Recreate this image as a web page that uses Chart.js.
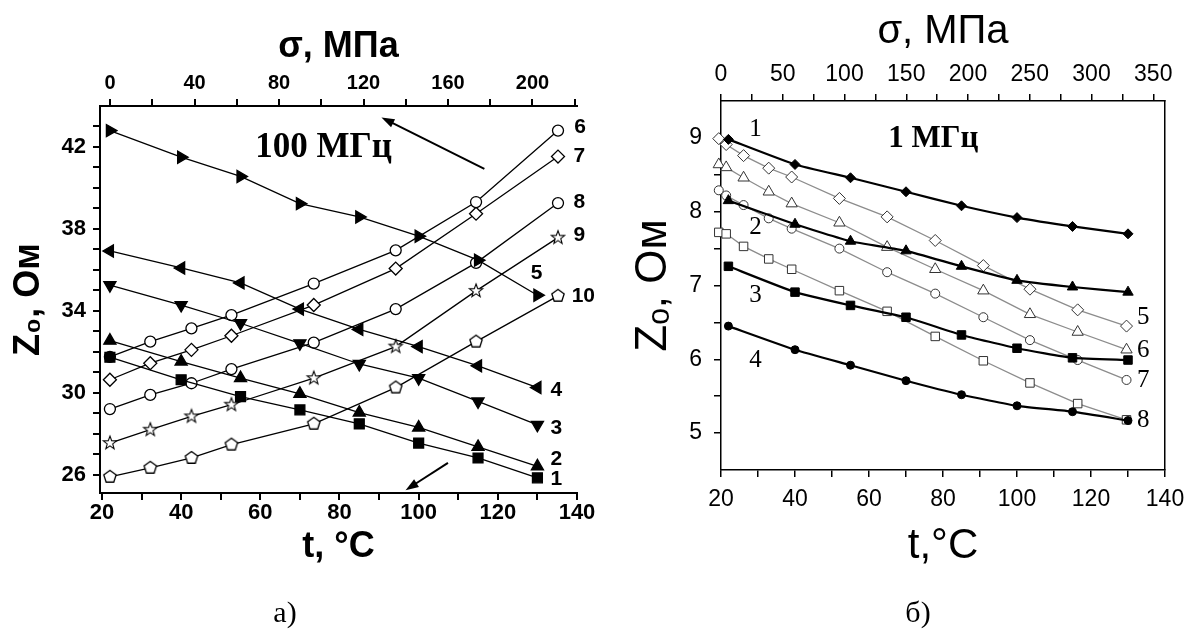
<!DOCTYPE html>
<html>
<head>
<meta charset="utf-8">
<script src="https://cdn.jsdelivr.net/npm/chart.js@4.4.1/dist/chart.umd.min.js"></script>
<style>
  html, body { margin: 0; padding: 0; background: #fff; }
  #wrap { position: relative; width: 1187px; height: 632px; overflow: hidden; }
  canvas { position: absolute; top: 0; }
  #ca { left: 0; width: 600px; height: 632px; }
  #cb { left: 600px; width: 587px; height: 632px; }
  .cap { position: absolute; font-family: 'Liberation Serif', serif; font-size: 30px; transform: translate(-50%, -50%); }
</style>
</head>
<body>
<div id="wrap">
  <canvas id="ca" width="600" height="632"></canvas>
  <canvas id="cb" width="587" height="632"></canvas>
  <div class="cap" style="left:285px;top:612px">а)</div>
  <div class="cap" style="left:918px;top:612px">б)</div>
</div>
<script>
// ---- chart а) : 100 MHz ----
const tempA = [22, 40, 55, 70, 85, 100, 115, 130];          // filled markers
const tempA2 = [22, 32.2, 42.6, 52.7, 73.5, 94.2, 114.5, 135.2]; // open markers
const zA1 = [31.73, 30.63, 29.81, 29.16, 28.48, 27.54, 26.81, 25.84];
const zA2 = [32.54, 31.52, 30.71, 29.94, 29.03, 28.30, 27.35, 26.40];
const zA3 = [35.25, 34.28, 33.39, 32.41, 31.40, 30.71, 29.57, 28.43];
const zA4 = [36.92, 36.09, 35.36, 34.08, 33.09, 32.25, 31.31, 30.25];
const zA5 = [42.80, 41.50, 40.56, 39.23, 38.58, 37.64, 36.47, 34.76];
const zA6 = [31.75, 32.49, 33.14, 33.79, 35.33, 36.95, 39.31, 42.80];
const zA7 = [30.63, 31.44, 32.09, 32.78, 34.28, 36.06, 38.74, 41.53];
const zA8 = [29.20, 29.89, 30.46, 31.15, 32.44, 34.08, 36.34, 39.26];
const zA9 = [27.54, 28.19, 28.84, 29.41, 30.71, 32.25, 34.97, 37.57];
const zA10 = [25.89, 26.33, 26.81, 27.46, 28.48, 30.25, 32.49, 34.73];

const ticksAx = [20, 30, 40, 50, 60, 70, 80, 90, 100, 110, 120, 130, 140];
const labelsAx = [20, 40, 60, 80, 100, 120, 140];
const ticksAs = [0, 20, 40, 60, 80, 100, 120, 140, 160, 180, 200, 220];
const labelsAs = [0, 40, 80, 120, 160, 200];
const ticksAy = [26, 27, 28, 29, 30, 31, 32, 33, 34, 35, 36, 37, 38, 39, 40, 41, 42, 43];
const labelsAy = [26, 30, 34, 38, 42];

// ---- chart б) : 1 MHz ----
const tempB = [22, 40, 55, 70, 85, 100, 115, 130];
const tempB2 = [19.4, 21.4, 26.1, 32.9, 39.1, 52, 64.9, 77.9, 90.9, 103.5, 116.4, 129.6];
const zB1 = [8.98, 8.64, 8.46, 8.27, 8.08, 7.92, 7.80, 7.70];
const zB2 = [8.15, 7.83, 7.60, 7.47, 7.26, 7.07, 6.98, 6.91];
const zB3 = [7.26, 6.91, 6.73, 6.57, 6.33, 6.15, 6.02, 5.99];
const zB4 = [6.45, 6.13, 5.92, 5.71, 5.52, 5.37, 5.29, 5.17];
const zB5 = [8.99, 8.91, 8.76, 8.59, 8.47, 8.18, 7.93, 7.61, 7.27, 6.95, 6.67, 6.45];
const zB6 = [8.64, 8.60, 8.46, 8.27, 8.11, 7.85, 7.52, 7.22, 6.93, 6.61, 6.37, 6.13];
const zB7 = [8.29, 8.22, 8.09, 7.91, 7.77, 7.50, 7.18, 6.89, 6.57, 6.26, 5.99, 5.72];
const zB8 = [7.72, 7.70, 7.53, 7.36, 7.22, 6.93, 6.65, 6.31, 5.98, 5.68, 5.40, 5.18];

const ticksBx = [20, 30, 40, 50, 60, 70, 80, 90, 100, 110, 120, 130, 140];
const labelsBx = [20, 40, 60, 80, 100, 120, 140];
const ticksBs = [0, 25, 50, 75, 100, 125, 150, 175, 200, 225, 250, 275, 300, 325, 350];
const labelsBs = [0, 50, 100, 150, 200, 250, 300, 350];
const ticksBy = [5, 5.5, 6, 6.5, 7, 7.5, 8, 8.5, 9];
const labelsBy = [5, 6, 7, 8, 9];

Chart.defaults.font.family = "'Liberation Sans', Arial, sans-serif";
Chart.defaults.color = '#000';

// custom open markers (pentagon, 5-point star)
function markerCanvas(path, lw) {
  const c = document.createElement('canvas');
  c.width = c.height = 18;
  const g = c.getContext('2d');
  g.translate(9, 9);
  g.beginPath();
  path(g);
  g.closePath();
  g.fillStyle = '#fff';
  g.fill();
  g.lineWidth = lw;
  g.strokeStyle = '#000';
  g.stroke();
  return c;
}
const pentagon = markerCanvas(g => {
  for (let k = 0; k < 5; k++) {
    const a = -Math.PI / 2 + k * 2 * Math.PI / 5;
    g.lineTo(Math.cos(a) * 6.5, Math.sin(a) * 6.5);
  }
}, 1.3);
const star = markerCanvas(g => {
  for (let k = 0; k < 10; k++) {
    const a = -Math.PI / 2 + k * Math.PI / 5;
    const r = k % 2 ? 2.9 : 7;
    g.lineTo(Math.cos(a) * r, Math.sin(a) * r);
  }
}, 1.1);

function pts(xs, ys) {
  return xs.map((x, i) => ({ x: x, y: ys[i] }));
}

function series(xs, ys, s) {
  return {
    data: pts(xs, ys),
    borderColor: s.line || '#000',
    borderWidth: s.lw,
    pointStyle: s.ps,
    pointRotation: s.rot || 0,
    pointRadius: s.r,
    pointBackgroundColor: s.fill,
    pointBorderColor: s.pc || '#000',
    pointBorderWidth: s.pw,
    tension: s.tension || 0,
    clip: false
  };
}

function axis(o) {
  return {
    type: 'linear',
    position: o.pos,
    min: o.min,
    max: o.max,
    afterBuildTicks: s => { s.ticks = o.ticks.map(v => ({ value: v })); },
    afterFit: s => {
      if (o.pos === 'left' || o.pos === 'right') s.width = o.size; else s.height = o.size;
      s.paddingLeft = 0; s.paddingRight = 0; s.paddingTop = 0; s.paddingBottom = 0;
    },
    ticks: {
      display: o.labels.length > 0,
      autoSkip: false, maxRotation: 0, minRotation: 0,
      padding: o.pad, color: '#000', font: o.font,
      callback: v => o.labels.includes(v) ? String(v) : ''
    },
    grid: { drawOnChartArea: false, drawTicks: o.tl > 0, tickLength: o.tl, tickColor: '#000', tickWidth: o.bw, lineWidth: o.bw, color: '#000' },
    border: { display: true, color: '#000', width: o.bw },
    title: o.title || { display: false }
  };
}

// text labels and arrows placed in data coordinates
function notes(texts, arrows) {
  return {
    id: 'notes',
    afterDatasetsDraw(chart) {
      const { ctx } = chart;
      const x = chart.scales.x, y = chart.scales.y;
      ctx.save();
      ctx.fillStyle = '#000';
      ctx.strokeStyle = '#000';
      ctx.textAlign = 'center';
      ctx.textBaseline = 'middle';
      texts.forEach(t => {
        ctx.font = t.font;
        ctx.fillText(t.text, x.getPixelForValue(t.x), y.getPixelForValue(t.y));
      });
      arrows.forEach(a => {
        const x0 = x.getPixelForValue(a.from[0]), y0 = y.getPixelForValue(a.from[1]);
        const x1 = x.getPixelForValue(a.to[0]), y1 = y.getPixelForValue(a.to[1]);
        const ang = Math.atan2(y1 - y0, x1 - x0);
        const hl = 13, hw = 4.5;
        ctx.lineWidth = 2;
        ctx.beginPath();
        ctx.moveTo(x0, y0);
        ctx.lineTo(x1 - Math.cos(ang) * hl * 0.8, y1 - Math.sin(ang) * hl * 0.8);
        ctx.stroke();
        ctx.beginPath();
        ctx.moveTo(x1, y1);
        ctx.lineTo(x1 - Math.cos(ang) * hl - Math.sin(ang) * hw, y1 - Math.sin(ang) * hl + Math.cos(ang) * hw);
        ctx.lineTo(x1 - Math.cos(ang) * hl + Math.sin(ang) * hw, y1 - Math.sin(ang) * hl - Math.cos(ang) * hw);
        ctx.closePath();
        ctx.fill();
      });
      ctx.restore();
    }
  };
}

const boldSans = "bold 21px 'Liberation Sans', Arial, sans-serif";

new Chart(document.getElementById('ca'), {
  type: 'line',
  data: {
    datasets: [
      series(tempA, zA1, { ps: 'rect', r: 7, fill: '#000', lw: 1.3, pw: 1.3 }),
      series(tempA, zA2, { ps: 'triangle', r: 7, fill: '#000', lw: 1.3, pw: 1.3 }),
      series(tempA, zA3, { ps: 'triangle', rot: 180, r: 7, fill: '#000', lw: 1.3, pw: 1.3 }),
      series(tempA, zA4, { ps: 'triangle', rot: 270, r: 7, fill: '#000', lw: 1.3, pw: 1.3 }),
      series(tempA, zA5, { ps: 'triangle', rot: 90, r: 7, fill: '#000', lw: 1.3, pw: 1.3 }),
      series(tempA2, zA6, { ps: 'circle', r: 5.5, fill: '#fff', lw: 1.3, pw: 1.3 }),
      series(tempA2, zA7, { ps: 'rectRot', r: 6.5, fill: '#fff', lw: 1.3, pw: 1.3 }),
      series(tempA2, zA8, { ps: 'circle', r: 5.5, fill: '#fff', lw: 1.3, pw: 1.3 }),
      series(tempA2, zA9, { ps: star, r: 6, fill: '#fff', lw: 1.3, pw: 1.3 }),
      series(tempA2, zA10, { ps: pentagon, r: 6, fill: '#fff', lw: 1.3, pw: 1.3 })
    ]
  },
  options: {
    responsive: false,
    animation: false,
    layout: { padding: { left: 0, right: 23, top: 0, bottom: 0 }, autoPadding: false },
    plugins: { legend: { display: false }, tooltip: { enabled: false } },
    scales: {
      x: axis({ pos: 'bottom', min: 19.5, max: 140, ticks: ticksAx, labels: labelsAx, size: 139, tl: 7, pad: 0, bw: 2,
        font: { size: 22, weight: 'bold' },
        title: { display: true, text: 't, °C', font: { size: 36, weight: 'bold' }, padding: { top: 0, bottom: 63 } } }),
      x2: axis({ pos: 'top', min: -4.8, max: 221.1, ticks: ticksAs, labels: labelsAs, size: 106, tl: 7, pad: 4, bw: 2,
        font: { size: 20, weight: 'bold' },
        title: { display: true, text: 'σ, МПа', font: { size: 36, weight: 'bold' }, padding: { top: 25, bottom: 0 } } }),
      y: axis({ pos: 'left', min: 25.1, max: 44, ticks: ticksAy, labels: labelsAy, size: 100, tl: 7, pad: 7, bw: 2,
        font: { size: 22, weight: 'bold' },
        title: { display: true, text: 'Z₀, Ом', font: { size: 36, weight: 'bold' }, padding: { top: 7, bottom: 0 } } })
    }
  },
  plugins: [notes([
    { text: '100 МГц', x: 76.0, y: 41.95, font: "bold 35px 'Liberation Serif', serif" },
    { text: '6', x: 140.8, y: 42.95, font: boldSans },
    { text: '7', x: 140.6, y: 41.55, font: boldSans },
    { text: '8', x: 140.6, y: 39.3, font: boldSans },
    { text: '9', x: 140.6, y: 37.7, font: boldSans },
    { text: '5', x: 129.8, y: 35.85, font: boldSans },
    { text: '10', x: 141.6, y: 34.7, font: boldSans },
    { text: '4', x: 134.8, y: 30.14, font: boldSans },
    { text: '3', x: 134.8, y: 28.27, font: boldSans },
    { text: '2', x: 134.8, y: 26.73, font: boldSans },
    { text: '1', x: 134.8, y: 25.76, font: boldSans }
  ], [
    { from: [116.6, 40.93], to: [90.6, 43.44] },
    { from: [107.4, 26.57], to: [96.7, 25.24] }
  ])]
});

const serifLbl = "25px 'Liberation Serif', serif";
const grayLine = '#8c8c8c';

new Chart(document.getElementById('cb'), {
  type: 'line',
  data: {
    datasets: [
      series(tempB, zB1, { ps: 'rectRot', r: 5, fill: '#000', lw: 2.2, pw: 1, tension: 0.15 }),
      series(tempB, zB2, { ps: 'triangle', r: 6, fill: '#000', lw: 2.2, pw: 1, tension: 0.15 }),
      series(tempB, zB3, { ps: 'rect', r: 6, fill: '#000', lw: 2.2, pw: 1, tension: 0.15 }),
      series(tempB, zB4, { ps: 'circle', r: 4, fill: '#000', lw: 2.2, pw: 1, tension: 0.15 }),
      series(tempB2, zB5, { ps: 'rectRot', r: 6, fill: '#fff', lw: 1.3, pw: 1, line: grayLine, pc: '#333' }),
      series(tempB2, zB6, { ps: 'triangle', r: 6.5, fill: '#fff', lw: 1.3, pw: 1, line: grayLine, pc: '#333' }),
      series(tempB2, zB7, { ps: 'circle', r: 4.5, fill: '#fff', lw: 1.3, pw: 1, line: grayLine, pc: '#333' }),
      series(tempB2, zB8, { ps: 'rect', r: 6, fill: '#fff', lw: 1.3, pw: 1, line: grayLine, pc: '#333' })
    ]
  },
  options: {
    responsive: false,
    animation: false,
    layout: { padding: { left: 0, right: 22, top: 0, bottom: 0 }, autoPadding: false },
    plugins: { legend: { display: false }, tooltip: { enabled: false } },
    scales: {
      x: axis({ pos: 'bottom', min: 20, max: 140, ticks: ticksBx, labels: labelsBx, size: 162, tl: 7, pad: 9, bw: 1.5,
        font: { size: 23 },
        title: { display: true, text: 't,°C', font: { size: 42 }, padding: { top: 0, bottom: 60 } } }),
      x2: axis({ pos: 'top', min: 0, max: 359.5, ticks: ticksBs, labels: labelsBs, size: 101, tl: 7, pad: 6, bw: 1.5,
        font: { size: 23 },
        title: { display: true, text: 'σ, МПа', font: { size: 40 }, padding: { top: 8, bottom: 0 } } }),
      y: axis({ pos: 'left', min: 4.5, max: 9.5, ticks: ticksBy, labels: labelsBy, size: 121, tl: 7, pad: 12, bw: 1.5,
        font: { size: 23 },
        title: { display: true, text: 'Zₒ, Ом', font: { size: 44 }, padding: { top: 27, bottom: 0 } } }),
      y2: axis({ pos: 'right', min: 4.5, max: 9.5, ticks: [], labels: [], size: 0, tl: 0, pad: 0, bw: 1.5 })
    }
  },
  plugins: [notes([
    { text: '1 МГц', x: 77.4, y: 8.98, font: "bold 31px 'Liberation Serif', serif" },
    { text: '1', x: 29.3, y: 9.12, font: serifLbl },
    { text: '2', x: 29.3, y: 7.79, font: serifLbl },
    { text: '3', x: 29.3, y: 6.86, font: serifLbl },
    { text: '4', x: 29.3, y: 5.98, font: serifLbl },
    { text: '5', x: 134.1, y: 6.57, font: serifLbl },
    { text: '6', x: 134.1, y: 6.12, font: serifLbl },
    { text: '7', x: 134.1, y: 5.71, font: serifLbl },
    { text: '8', x: 134.1, y: 5.17, font: serifLbl }
  ], [])]
});
</script>
</body>
</html>
